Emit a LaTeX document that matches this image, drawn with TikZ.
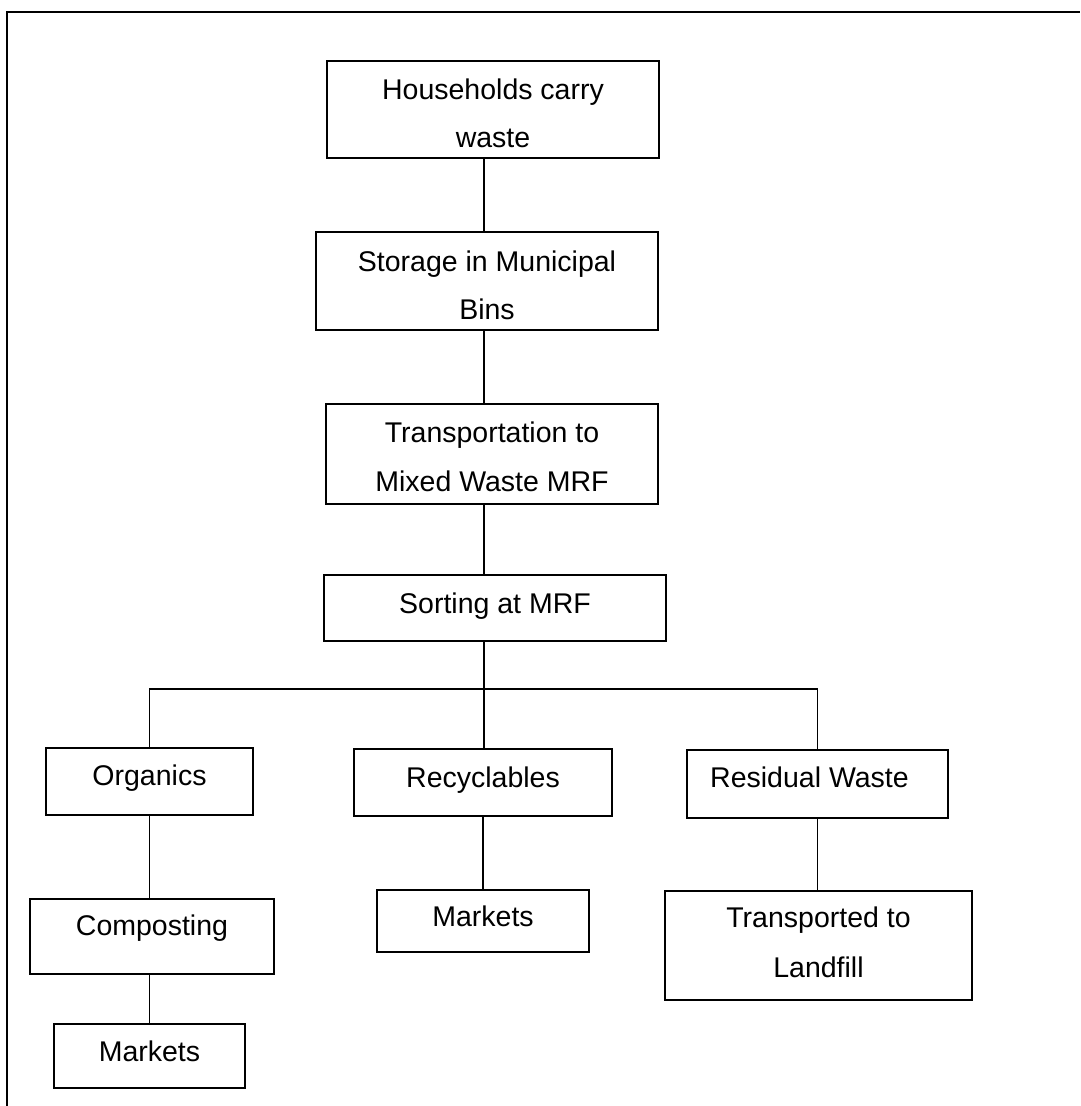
\documentclass[tikz,border=0pt]{standalone}
\usepackage{fontspec}
\setmainfont{Liberation Sans}
\begin{document}
\begin{tikzpicture}[x=1pt,y=-1pt,
  box/.style={draw=black, line width=2pt, rectangle, inner sep=0pt, anchor=north west},
  txt/.style={anchor=base, inner sep=0pt, font=\fontsize{28.5}{34}\selectfont},
  link/.style={draw=black, line width=1.4pt},
  frameline/.style={draw=black, line width=2pt}]
\useasboundingbox (0,0) rectangle (1080,1106);
\fill[white] (0,0) rectangle (1080,1106);
% frame (open at right and bottom)
\draw[frameline] (7,1106) -- (7,12) -- (1080,12);
% main column
\node[box, minimum width=332pt, minimum height=97pt] (b1) at (326,60) {};
\node[box, minimum width=342pt, minimum height=98pt] (b2) at (315,231) {};
\node[box, minimum width=332pt, minimum height=100pt] (b3) at (325,403) {};
\node[box, minimum width=342pt, minimum height=66pt] (b4) at (323,574) {};
% second level
\node[box, minimum width=207pt, minimum height=67pt] (org) at (45,747) {};
\node[box, minimum width=258pt, minimum height=67pt] (rec) at (353,748) {};
\node[box, minimum width=261pt, minimum height=68pt] (res) at (686,749) {};
% third level
\node[box, minimum width=244pt, minimum height=75pt] (comp) at (29,898) {};
\node[box, minimum width=212pt, minimum height=62pt] (mkt2) at (376,889) {};
\node[box, minimum width=307pt, minimum height=109pt] (land) at (664,890) {};
% fourth level
\node[box, minimum width=191pt, minimum height=64pt] (mkt1) at (53,1023) {};
% texts
\node[txt] (t1a) at ([yshift=-39pt]b1.north) {Households carry};
\node[txt] (t1b) at ([yshift=-87pt]b1.north) {waste};
\node[txt] (t2a) at ([yshift=-40pt]b2.north) {Storage in Municipal};
\node[txt] (t2b) at ([yshift=-88pt]b2.north) {Bins};
\node[txt] (t3a) at ([yshift=-39pt]b3.north) {Transportation to};
\node[txt] (t3b) at ([yshift=-88pt]b3.north) {Mixed Waste MRF};
\node[txt] (t4) at ([yshift=-39pt]b4.north) {Sorting at MRF};
\node[txt] (torg) at ([yshift=-38pt]org.north) {Organics};
\node[txt] (trec) at ([yshift=-39pt]rec.north) {Recyclables};
\node[txt] (tres) at ([xshift=-8pt,yshift=-38pt]res.north) {Residual Waste};
\node[txt] (tcomp) at ([yshift=-37pt]comp.north) {Composting};
\node[txt] (tmkt2) at ([yshift=-37pt]mkt2.north) {Markets};
\node[txt] (tland1) at ([yshift=-37pt]land.north) {Transported to};
\node[txt] (tland2) at ([yshift=-87pt]land.north) {Landfill};
\node[txt] (tmkt1) at ([yshift=-38pt]mkt1.north) {Markets};
% connectors
\coordinate (spine) at (484,0);
\coordinate (bar) at (0,689);
\draw[link] (b1.south -| spine) -- (b2.north -| spine);
\draw[link] (b2.south -| spine) -- (b3.north -| spine);
\draw[link] (b3.south -| spine) -- (b4.north -| spine);
\draw[link] (b4.south -| spine) -- (rec.north -| spine);
\draw[link] (org.north) -- (org.north |- bar) -- (res.north |- bar) -- (res.north);
\draw[link] (org.south) -- (org.south |- comp.north);
\draw[link] (comp.south -| org.south) -- (mkt1.north -| org.south);
\draw[link] (rec.south) -- (rec.south |- mkt2.north);
\draw[link] (res.south) -- (res.south |- land.north);
\end{tikzpicture}
\end{document}
